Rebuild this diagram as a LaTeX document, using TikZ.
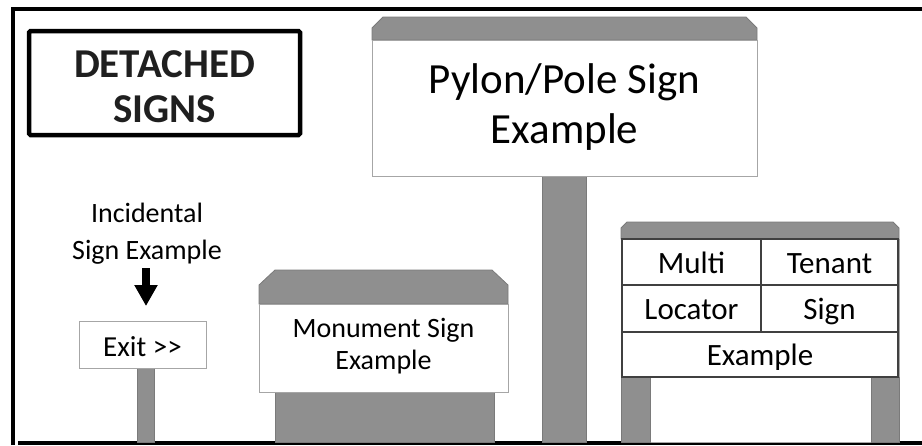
\documentclass[tikz,border=0pt]{standalone}
\usepackage{fontspec}
\setmainfont{Carlito}
\usetikzlibrary{arrows.meta}
\definecolor{signgray}{HTML}{8F8F8F}
\definecolor{edgegray}{HTML}{7A7A7A}
\definecolor{boxedge}{HTML}{A6A6A6}
\definecolor{cellline}{HTML}{404040}
\tikzset{
  frameline/.style={line width=4pt,black},
  capshape/.style={fill=signgray,draw=edgegray,line width=0.8pt},
  postshape/.style={fill=signgray,draw=edgegray,line width=0.8pt},
  whitebox/.style={fill=white,draw=boxedge,line width=1pt},
  cell/.style={draw=cellline,line width=1.3pt,fill=white,inner sep=0pt,
    font=\fontsize{31}{36}\selectfont,text height=22pt,text depth=0pt},
  txt/.style={inner sep=0pt,align=center},
}
\begin{document}
\begin{tikzpicture}[x=1pt,y=-1pt]
\useasboundingbox (0,0) rectangle (922,445);
% frame
\draw[frameline] (12.5,445) -- (12.5,9) -- (922,9);
\draw[frameline] (18,443) -- (922,443);
% title
\draw[line width=4.5pt,rounded corners=1.5pt] (29,31) rectangle (300,135);
\node[txt,font=\bfseries\fontsize{41}{45}\selectfont,text=black!88] (title) at (164.5,87) {DETACHED\\SIGNS};

% incidental sign
\draw[postshape] (137,368) rectangle (154,442);
\node[whitebox,minimum width=127pt,minimum height=47pt,inner sep=0pt,
  font=\fontsize{29}{34}\selectfont,text height=24pt,text depth=0pt] (exit) at (142.5,344.5) {Exit {>}{>}};
\node[txt,font=\fontsize{28}{37}\selectfont] (inc) at (147,234) {Incidental\\Sign Example};
\coordinate (arrS) at (146,268);
\coordinate (arrE) at (146,306);
\draw[line width=8pt,-{Triangle[width=22pt,length=21pt]}] (arrS) -- (arrE);

% monument sign
\draw[postshape] (275,392) rectangle (494,442);
\draw[capshape] (259,304) -- (259,285) -- (275,270) -- (492,270) -- (508,285) -- (508,304) -- cycle;
\node[whitebox,minimum width=249pt,minimum height=88pt,inner sep=0pt] (monbox) at (383.5,348) {};
\node[txt,font=\fontsize{28}{32}\selectfont] (montext) at (383.5,346) {Monument Sign\\Example};

% pylon sign
\draw[postshape] (542,176) rectangle (586,442);
\draw[capshape] (372,40) -- (372,28) -- (383,17) -- (746,17) -- (757,28) -- (757,40) -- cycle;
\node[whitebox,minimum width=385pt,minimum height=136pt,inner sep=0pt] (pylbox) at (564.5,108) {};
\node[txt,font=\fontsize{43}{50}\selectfont] (pyltext) at (564.5,107) {Pylon/Pole Sign\\Example};

% multi tenant sign
\draw[draw=boxedge,line width=0.8pt,fill=white] (621,239) rectangle (899,442);
\draw[postshape] (621,377) rectangle (650,442);
\draw[postshape] (871,377) rectangle (899,442);
\draw[capshape] (621,239) -- (621,228) -- (627,222) -- (893,222) -- (899,228) -- (899,239) -- cycle;
\node[cell,minimum width=139pt,minimum height=46pt] (c11) at (691.5,262) {Multi};
\node[cell,minimum width=137pt,minimum height=46pt] (c12) at (829.5,262) {Tenant};
\node[cell,minimum width=139pt,minimum height=47pt] (c21) at (691.5,308.5) {Locator};
\node[cell,minimum width=137pt,minimum height=47pt] (c22) at (829.5,308.5) {Sign};
\node[cell,minimum width=276pt,minimum height=45pt] (c3) at (760,354.5) {Example};
\end{tikzpicture}
\end{document}
